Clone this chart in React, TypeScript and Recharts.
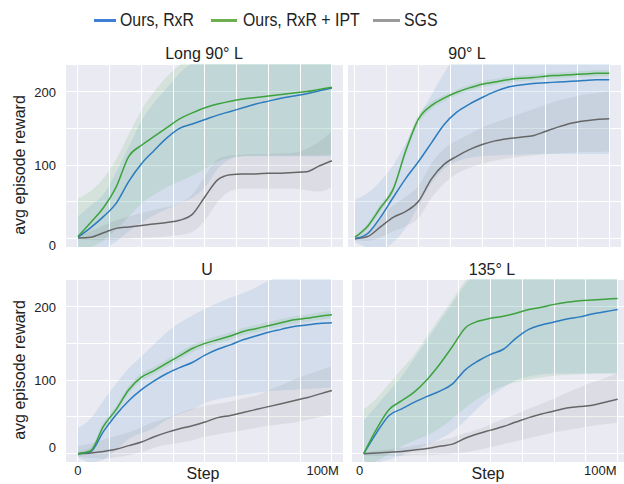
import React from 'react';
import { ComposedChart, Line, Area, XAxis, YAxis, CartesianGrid, ReferenceLine } from 'recharts';

// steps in millions
const steps = [0, 5, 10, 15, 20, 25, 30, 35, 40, 45, 50, 55, 60, 65, 70, 75, 80, 85, 90, 95, 100];
const xTicks = [0, 12.5, 25, 37.5, 50, 62.5, 75, 87.5, 100];
const yTicks = [0, 50, 100, 150, 200];

// Long 90° L
const long90Green = [3, 22, 42, 70, 112, 127, 139, 151, 163, 171, 178, 183, 187, 190, 192, 194, 196, 198, 200, 203, 206];
const long90GreenLo = [-20, -12, -2, 12, 30, 48, 60, 70, 78, 86, 95, 105, 110, 112, 113, 113, 113, 113, 113, 113, 114];
const long90GreenHi = [55, 65, 82, 108, 142, 175, 200, 220, 236, 250, 260, 260, 260, 260, 260, 260, 260, 260, 260, 260, 260];
const long90Blue = [2, 15, 30, 48, 78, 102, 120, 137, 150, 156, 162, 168, 173, 178, 183, 187, 191, 194, 197, 201, 205];
const long90BlueLo = [-40, -30, -15, -4, 10, 22, 32, 40, 48, 56, 70, 95, 108, 112, 112, 112, 112, 112, 112, 112, 112];
const long90BlueHi = [30, 45, 60, 90, 125, 160, 185, 205, 225, 240, 255, 260, 260, 260, 260, 260, 260, 260, 260, 260, 260];
const long90Gray = [1, 2, 8, 14, 16, 18, 20, 22, 25, 33, 57, 80, 87, 88, 88, 89, 89, 90, 91, 99, 106];
const long90GrayLo = [0, -2, -2, -1, 0, 1, 2, 3, 5, 9, 25, 50, 65, 68, 68, 68, 68, 68, 66, 64, 70];
const long90GrayHi = [4, 10, 18, 25, 30, 35, 39, 43, 48, 60, 85, 108, 113, 114, 115, 115, 116, 117, 122, 132, 146];

// 90° L
const l90Green = [2, 17, 42, 67, 120, 163, 181, 191, 199, 205, 210, 213, 216, 218, 219, 221, 222, 223, 224, 225, 225];
const l90GreenLo = [0, 13, 37, 62, 114, 157, 176, 187, 195, 201, 206, 209, 212, 214, 215, 217, 218, 219, 220, 221, 221];
const l90GreenHi = [4, 21, 47, 72, 126, 169, 186, 195, 203, 209, 214, 217, 220, 222, 223, 225, 226, 227, 228, 229, 229];
const l90Blue = [0, 7, 29, 56, 82, 105, 130, 155, 172, 183, 192, 200, 206, 209, 211, 212, 213, 214, 215, 216, 216];
const l90BlueLo = [-5, -12, -15, -5, 15, 45, 75, 95, 105, 110, 112, 113, 114, 114, 115, 115, 115, 115, 115, 115, 115];
const l90BlueHi = [53, 62, 78, 100, 130, 165, 195, 225, 250, 260, 260, 260, 260, 260, 260, 260, 260, 260, 260, 260, 260];
const l90Gray = [0, 3, 16, 29, 37, 51, 81, 101, 112, 121, 128, 133, 136, 138, 140, 146, 152, 157, 160, 162, 163];
const l90GrayLo = [-2, -3, 2, 10, 17, 28, 55, 75, 88, 96, 102, 106, 109, 111, 113, 115, 116, 117, 118, 118, 119];
const l90GrayHi = [2, 10, 28, 45, 57, 72, 102, 122, 133, 142, 151, 158, 164, 170, 176, 182, 188, 192, 196, 198, 200];

// U
const uGreen = [0, 4, 37, 60, 87, 104, 113, 123, 133, 143, 150, 155, 160, 166, 170, 174, 178, 182, 184, 187, 189];
const uGreenLo = [-3, 0, 32, 55, 82, 99, 108, 118, 128, 138, 145, 150, 155, 161, 165, 169, 173, 177, 179, 182, 184];
const uGreenHi = [3, 8, 42, 65, 92, 109, 118, 128, 138, 148, 155, 160, 165, 171, 175, 179, 183, 187, 189, 192, 194];
const uBlue = [0, 3, 30, 53, 72, 87, 99, 109, 117, 124, 134, 142, 148, 155, 160, 165, 169, 173, 175, 177, 178];
const uBlueLo = [-5, -12, -8, 5, 20, 28, 35, 46, 54, 60, 69, 74, 77, 80, 83, 85, 86, 87, 88, 89, 90];
const uBlueHi = [35, 48, 72, 95, 116, 132, 149, 165, 178, 188, 197, 205, 212, 218, 226, 235, 242, 250, 250, 250, 250];
const uGray = [0, 1, 3, 6, 11, 16, 23, 29, 34, 38, 43, 49, 52, 56, 60, 64, 68, 72, 76, 81, 86];
const uGrayLo = [-4, -6, -7, -5, -2, 2, 8, 12, 15, 18, 23, 26, 29, 32, 35, 38, 40, 42, 46, 50, 53];
const uGrayHi = [10, 14, 19, 24, 29, 36, 43, 49, 55, 61, 65, 68, 71, 75, 79, 86, 93, 101, 107, 113, 119];

// 135° L
const l135Green = [0, 33, 60, 72, 84, 101, 122, 146, 171, 180, 184, 187, 191, 196, 199, 203, 206, 208, 209, 210, 211];
const l135GreenLo = [-15, -10, 0, 10, 18, 25, 35, 48, 62, 75, 85, 92, 97, 101, 104, 106, 107, 108, 109, 109, 110];
const l135GreenHi = [60, 75, 95, 115, 135, 160, 185, 210, 235, 255, 260, 260, 260, 260, 260, 260, 260, 260, 260, 260, 260];
const l135Blue = [0, 28, 52, 61, 70, 78, 85, 95, 114, 126, 135, 142, 157, 169, 175, 179, 183, 186, 190, 193, 196];
const l135BlueLo = [-10, -12, -8, -2, 5, 12, 20, 30, 45, 62, 78, 90, 100, 105, 108, 109, 109, 109, 109, 109, 109];
const l135BlueHi = [45, 65, 85, 105, 130, 155, 180, 205, 230, 250, 260, 260, 260, 260, 260, 260, 260, 260, 260, 260, 260];
const l135Gray = [0, 1, 2, 3, 5, 7, 10, 13, 21, 27, 32, 37, 43, 49, 54, 58, 62, 64, 66, 70, 74];
const l135GrayLo = [-2, -3, -3, -3, -2, -2, -1, 0, 2, 5, 9, 13, 17, 21, 25, 29, 32, 35, 38, 40, 42];
const l135GrayHi = [2, 4, 6, 8, 11, 14, 18, 22, 28, 33, 40, 47, 54, 61, 68, 75, 83, 90, 97, 103, 110];

const BLUE = '#2b7bbf';
const GREEN = '#3da23d';
const GRAY = '#666666';
const FONT = '"Liberation Sans", Arial, sans-serif';

const makeRows = (g: number[], gl: number[], gh: number[], b: number[], bl: number[], bh: number[], k: number[], kl: number[], kh: number[]) =>
  steps.map((x, i) => ({
    x,
    green: g[i], greenBand: [gl[i], gh[i]],
    blue: b[i], blueBand: [bl[i], bh[i]],
    gray: k[i], grayBand: [kl[i], kh[i]],
  }));

const long90Rows = makeRows(long90Green, long90GreenLo, long90GreenHi, long90Blue, long90BlueLo, long90BlueHi, long90Gray, long90GrayLo, long90GrayHi);
const l90Rows = makeRows(l90Green, l90GreenLo, l90GreenHi, l90Blue, l90BlueLo, l90BlueHi, l90Gray, l90GrayLo, l90GrayHi);
const uRows = makeRows(uGreen, uGreenLo, uGreenHi, uBlue, uBlueLo, uBlueHi, uGray, uGrayLo, uGrayHi);
const l135Rows = makeRows(l135Green, l135GreenLo, l135GreenHi, l135Blue, l135BlueLo, l135BlueHi, l135Gray, l135GrayLo, l135GrayHi);

const Y_DOMAIN: [number, number] = [-11.3, 237.5];

interface PanelProps {
  rows: any[];
  left: number;
  top: number;
  w: number;
  h: number;
  xDomain: [number, number];
  showY?: boolean;
  showX?: boolean;
  zeroDy?: number;
  zeroDx?: number;
  endDx?: number;
}

const Panel: React.FC<PanelProps> = ({ rows, left, top, w, h, xDomain, showY, showX, zeroDy = 0, zeroDx = 0, endDx = 0 }) => {
  const yW = showY ? 60 : 0;
  const xH = showX ? 22 : 10;

  const yTick = (p: any) => {
    const v = p.payload.value;
    if (!showY || v % 100 !== 0) return <g />;
    return (
      <text x={p.x - 10} y={p.y + (v === 0 ? zeroDy : 0)} dy={5} textAnchor="end" fontSize={13} fill="#222" fontFamily={FONT}>
        {v}
      </text>
    );
  };

  const xTick = (p: any) => {
    const v = p.payload.value;
    if (!showX) return <g />;
    if (v === 0) return <text x={p.x + zeroDx} y={p.y + 13} textAnchor="middle" fontSize={13} fill="#222" fontFamily={FONT}>0</text>;
    if (v === 100) return <text x={p.x + endDx} y={p.y + 13} textAnchor="end" fontSize={13} fill="#222" fontFamily={FONT}>100M</text>;
    return <g />;
  };

  return (
    <div style={{ position: 'absolute', left: left - yW, top }}>
      <ComposedChart width={yW + w} height={h + xH} data={rows} margin={{ top: 0, right: 0, bottom: 0, left: 0 }}>
        <CartesianGrid stroke="#ffffff" strokeWidth={1} fill="#eaeaf2" fillOpacity={1} vertical={false} shapeRendering="crispEdges" />
        <XAxis type="number" dataKey="x" domain={xDomain} ticks={xTicks} allowDataOverflow interval={0}
          height={xH} axisLine={false} tickLine={false} tickSize={0} tickMargin={0} tick={xTick} />
        <YAxis type="number" domain={Y_DOMAIN} ticks={yTicks} allowDataOverflow interval={0}
          width={yW} axisLine={false} tickLine={false} tickSize={0} tickMargin={0} tick={yTick} />
        {xTicks.map((t) => (
          <ReferenceLine key={t} x={t} stroke="#ffffff" strokeWidth={1} ifOverflow="hidden" shapeRendering="crispEdges" />
        ))}
        <Area dataKey="greenBand" type="monotone" stroke="none" fill="#2ca02c" fillOpacity={0.11} isAnimationActive={false} />
        <Area dataKey="blueBand" type="monotone" stroke="none" fill="#1f77b4" fillOpacity={0.11} isAnimationActive={false} />
        <Area dataKey="grayBand" type="monotone" stroke="none" fill="#555566" fillOpacity={0.09} isAnimationActive={false} />
        <Line dataKey="gray" type="monotone" stroke={GRAY} strokeWidth={1.5} dot={false} isAnimationActive={false} />
        <Line dataKey="blue" type="monotone" stroke={BLUE} strokeWidth={1.5} dot={false} isAnimationActive={false} />
        <Line dataKey="green" type="monotone" stroke={GREEN} strokeWidth={1.5} dot={false} isAnimationActive={false} />
      </ComposedChart>
    </div>
  );
};

const txt = (s: string, left: number, top: number, size: number, extra: React.CSSProperties = {}) => (
  <div style={{ position: 'absolute', left, top, fontSize: size, lineHeight: `${size}px`, color: '#222', whiteSpace: 'nowrap', transform: 'translateX(-50%)', ...extra }}>
    {s}
  </div>
);

const legendItems = [
  { label: 'Ours, RxR', color: '#3f7fd6', x: 94, w: 22, tx: 120 },
  { label: 'Ours, RxR + IPT', color: '#6cae50', x: 211, w: 26, tx: 243 },
  { label: 'SGS', color: '#9a9a9a', x: 373, w: 27, tx: 404 },
];

export default function App() {
  return (
    <div style={{ position: 'absolute', left: 0, top: 0, width: 624, height: 484, overflow: 'hidden', background: '#fff', fontFamily: FONT }}>
      {legendItems.map((it) => (
        <React.Fragment key={it.label}>
          <div style={{ position: 'absolute', left: it.x, top: 19, width: it.w, height: 3, background: it.color }} />
          <div style={{ position: 'absolute', left: it.tx, top: 11, fontSize: 18, lineHeight: '18px', color: '#222', whiteSpace: 'nowrap', transform: 'scaleX(0.88)', transformOrigin: 'left center' }}>{it.label}</div>
        </React.Fragment>
      ))}

      {txt('Long 90° L', 204, 46, 16)}
      {txt('90° L', 467, 46, 16)}
      {txt('U', 207, 262, 16)}
      {txt('135° L', 492, 262, 16)}

      {txt('avg episode reward', 20, 157, 16, { transform: 'translate(-50%, 0) rotate(-90deg)' })}
      {txt('avg episode reward', 20, 362, 16, { transform: 'translate(-50%, 0) rotate(-90deg)' })}

      {txt('Step', 203, 466, 16)}
      {txt('Step', 488, 466, 16)}

      <Panel rows={long90Rows} left={66} top={64} w={277} h={183} xDomain={[-4.72, 104.35]} showY zeroDy={6} />
      <Panel rows={l90Rows} left={348} top={64} w={273} h={183} xDomain={[-2.75, 104.6]} />
      <Panel rows={uRows} left={66} top={279} w={277} h={183} xDomain={[-4.72, 104.35]} showY showX zeroDy={-7} endDx={7} />
      <Panel rows={l135Rows} left={352} top={279} w={272} h={183} xDomain={[-4.6, 102.5]} showX zeroDx={-4} endDx={-1} />
    </div>
  );
}
